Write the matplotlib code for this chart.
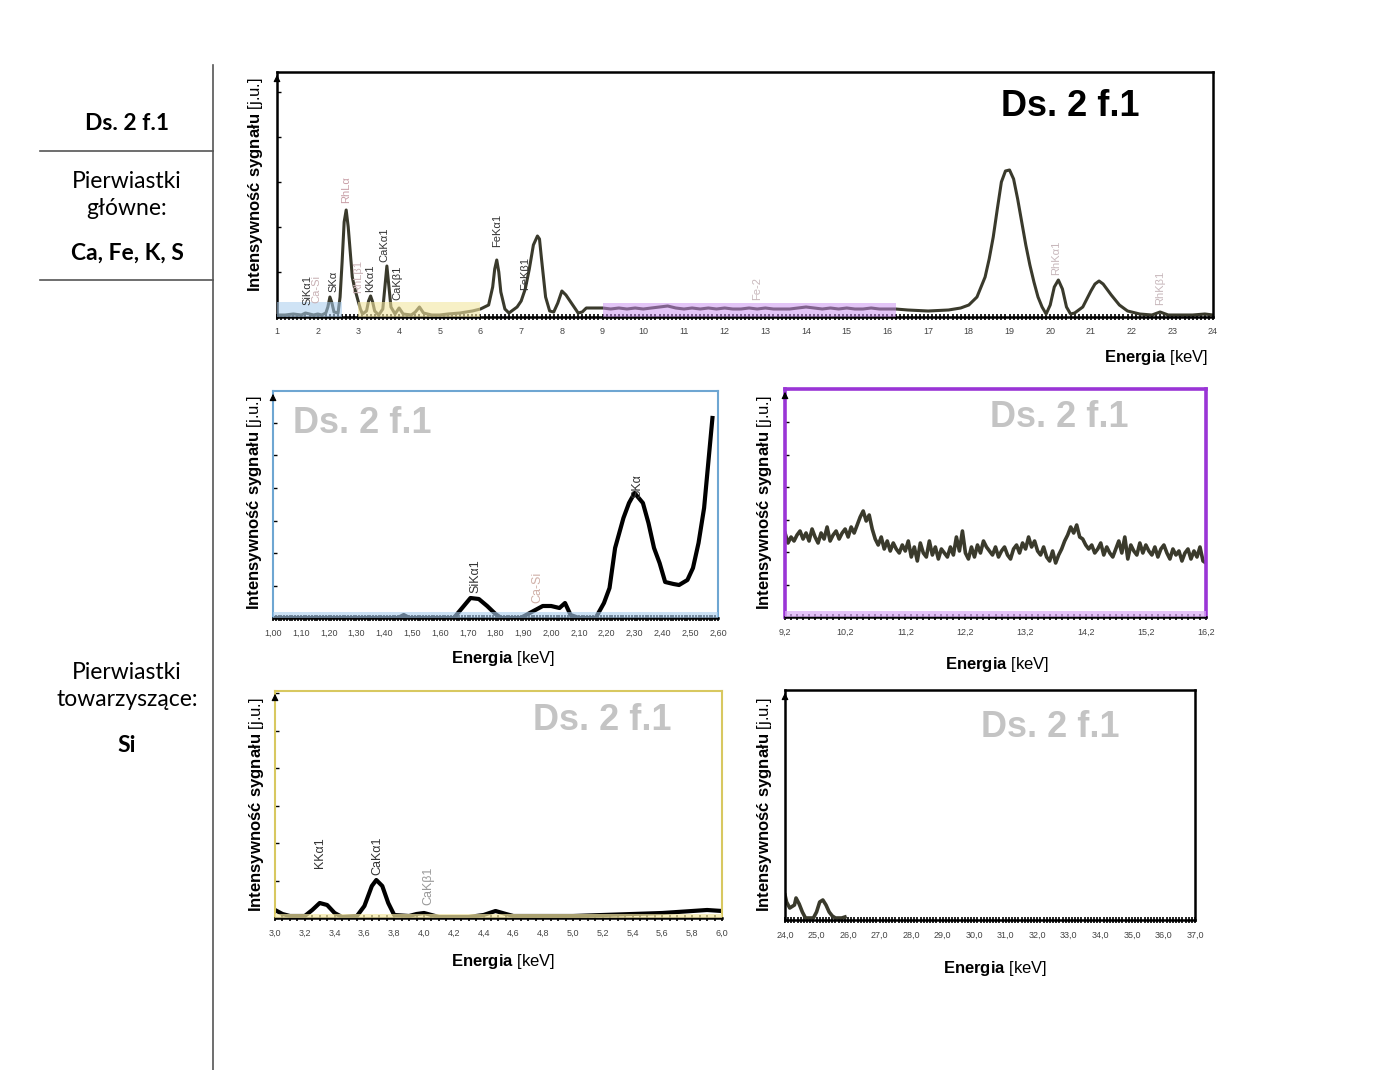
import numpy as np
import matplotlib
matplotlib.use("Agg")
import matplotlib.pyplot as plt
from matplotlib.lines import Line2D
from matplotlib.ticker import MultipleLocator, FuncFormatter

plt.rcParams['font.family'] = ['Liberation Sans', 'DejaVu Sans']
plt.rcParams['mathtext.fontset'] = 'custom'
plt.rcParams['mathtext.rm'] = 'Liberation Sans'
plt.rcParams['mathtext.bf'] = 'Liberation Sans:bold'

# ---- data (intensity in arbitrary units) ----
# full spectrum, low-energy part
top_e_low = [1.0, 1.2, 1.4, 1.6, 1.7, 1.8, 1.9, 2.0, 2.1, 2.2, 2.25, 2.3, 2.35, 2.4, 2.5,
             2.55, 2.6, 2.65, 2.7, 2.75, 2.8, 2.85, 2.9, 3.0, 3.05, 3.1, 3.2, 3.25, 3.3,
             3.35, 3.4, 3.5, 3.6, 3.65, 3.7, 3.75, 3.8, 3.9, 4.0, 4.1, 4.3, 4.4, 4.5, 4.6,
             4.8, 5.0, 5.2, 5.5, 5.8, 6.0, 6.2, 6.3, 6.35, 6.4, 6.45, 6.5, 6.6, 6.7, 6.8,
             6.9, 7.0, 7.1, 7.2, 7.3, 7.4, 7.45, 7.5, 7.6, 7.7, 7.8, 7.9, 8.0, 8.1, 8.2,
             8.3, 8.4, 8.5, 8.6, 8.8, 9.0]
top_i_low = [2, 2, 3, 2, 4, 3, 2, 3, 2, 4, 10, 20, 14, 5, 4,
             20, 55, 95, 107, 90, 65, 40, 30, 15, 8, 3, 6, 16, 21,
             15, 6, 2, 8, 30, 51, 30, 10, 3, 9, 3, 2, 5, 10, 4,
             2, 2, 3, 4, 6, 8, 12, 30, 48, 57, 45, 25, 8, 4, 7,
             10, 16, 28, 48, 72, 81, 78, 58, 20, 6, 5, 14, 26, 22, 16,
             10, 4, 5, 9, 9, 9]
# full spectrum, flat noisy part 9.2 - 16.2 keV (step 0.2)
top_i_mid = [8, 9, 8, 9, 8, 9, 10, 11, 9, 8, 9, 8, 9, 8, 9, 8, 8, 9,
             8, 9, 8, 8, 8, 9, 10, 9, 8, 9, 8, 9, 8, 8, 9, 8, 8, 8]
# full spectrum, high-energy part
top_e_high = [16.5, 17.0, 17.5, 17.8, 18.0, 18.2, 18.4, 18.5, 18.6, 18.7, 18.8, 18.9, 19.0,
              19.1, 19.2, 19.3, 19.4, 19.5, 19.6, 19.7, 19.8, 19.9, 20.0, 20.1, 20.2, 20.3,
              20.4, 20.5, 20.6, 20.8, 21.0, 21.1, 21.2, 21.3, 21.5, 21.7, 21.9, 22.2, 22.5,
              22.7, 22.9, 23.2, 23.5, 23.8, 24.0]
top_i_high = [7, 6, 7, 9, 12, 20, 40, 58, 80, 108, 135, 146, 147,
              138, 118, 95, 72, 52, 35, 20, 10, 3, 12, 30, 37, 28,
              10, 3, 4, 10, 26, 33, 36, 33, 22, 12, 6, 3, 2,
              5, 2, 2, 2, 3, 2]

top_labels = [("SiKα1", 1.74, 12, "#333333"), ("Ca-Si", 1.97, 14, "#c8b0b4"),
              ("SKα", 2.38, 25, "#333333"), ("RhLα", 2.70, 114, "#c9a0a8"),
              ("RhLβ1", 3.00, 24, "#c9b0b4"), ("KKα1", 3.30, 25, "#333333"),
              ("CaKα1", 3.65, 55, "#333333"), ("CaKβ1", 3.97, 17, "#333333"),
              ("FeKα1", 6.40, 70, "#333333"), ("FeKβ1", 7.10, 27, "#333333"),
              ("Fe-2", 12.8, 17, "#c8b8bc"), ("RhKα1", 20.15, 42, "#c8b8bc"),
              ("RhKβ1", 22.70, 12, "#c8b8bc")]

# zoom 1.00 - 2.60 keV
si_e = [1.00, 1.20, 1.45, 1.47, 1.49, 1.65, 1.68, 1.71, 1.74, 1.77, 1.80, 1.82, 1.89,
        1.93, 1.97, 2.00, 2.03, 2.05, 2.07, 2.10, 2.16, 2.19, 2.21, 2.23, 2.26, 2.28,
        2.30, 2.33, 2.35, 2.37, 2.39, 2.41, 2.44, 2.46, 2.49, 2.51, 2.53, 2.55, 2.56, 2.58]
si_i = [0, 0, 0, 3, 0, 0, 10, 20, 19, 12, 4, 0, 0,
        6, 12, 12, 10, 15, 3, 0, 0, 15, 30, 70, 100, 115,
        125, 115, 95, 70, 55, 36, 34, 33, 38, 50, 75, 110, 140, 200]
si_labels = [("SiKα1", 1.726, 25, "#333333"), ("Ca-Si", 1.95, 15, "#d0b0a8"),
             ("SKα", 2.31, 120, "#333333")]

# zoom 9.2 - 16.2 keV (step 0.05)
fe_i = [84, 74, 80, 76, 82, 86, 78, 84, 76, 88, 80, 74, 84, 78, 90, 76, 82, 86, 78, 84, 88,
        80, 90, 84, 92, 100, 106, 96, 102, 88, 78,
        72, 80, 68, 76, 66, 74, 68, 64, 72, 66,
        76, 60, 70, 56, 74, 64, 60, 76, 62, 70,
        58, 68, 64, 60, 70, 62, 80, 66, 86, 64,
        58, 70, 60, 72, 64, 76, 70, 66, 62, 70,
        60, 66, 70, 62, 58, 68, 72, 64, 74, 68,
        80, 70, 76, 66, 62, 70, 60, 56, 66, 54,
        62, 68, 76, 82, 90, 84, 92, 80, 78, 72,
        68, 72, 64, 68, 74, 62, 70, 64, 60, 68,
        76, 64, 80, 58, 72, 66, 62, 74, 64, 72,
        66, 62, 70, 60, 68, 72, 64, 58, 68, 62,
        66, 56, 64, 68, 58, 66, 60, 70, 56, 54]

# zoom 3.0 - 6.0 keV
ca_e = [3.00, 3.05, 3.10, 3.20, 3.25, 3.30, 3.35, 3.40, 3.45, 3.55, 3.60, 3.65, 3.68,
        3.72, 3.76, 3.80, 3.90, 3.95, 4.00, 4.05, 4.10, 4.30, 4.40, 4.48, 4.55, 4.60,
        4.80, 5.00, 5.20, 5.40, 5.60, 5.80, 5.90, 6.00]
ca_i = [8, 4, 2, 2, 8, 15, 13, 5, 1, 2, 12, 32, 38,
        32, 15, 3, 2, 4, 5, 3, 1, 1, 3, 7, 4, 2,
        2, 2, 3, 4, 5, 7, 8, 7]
ca_labels = [("KKα1", 3.30, 50, "#333333"), ("CaKα1", 3.69, 43, "#333333"),
             ("CaKβ1", 4.03, 13, "#999999")]

# zoom 24 - 37 keV
rh_e = [24.0, 24.05, 24.15, 24.3, 24.35, 24.45, 24.55, 24.65, 24.9, 25.0, 25.1, 25.2,
        25.3, 25.4, 25.5, 25.6, 25.8, 25.9]
rh_i = [25, 18, 12, 15, 22, 16, 8, 2, 2, 8, 18, 20, 15, 8, 4, 2, 2, 3]

LINE = "#3a3a2c"
W, H = 1400, 1070


def comma(decimals):
    return FuncFormatter(lambda v, p: f"{v:.{decimals}f}".replace(".", ","))


def make_axes(fig, l, t, r, b):
    return fig.add_axes([l / W, 1 - b / H, (r - l) / W, (b - t) / H])


def style(ax, xlim, ymax, step, minor, dec, ystep, color, lw):
    ax.set_xlim(*xlim)
    ax.set_ylim(0, ymax)
    ax.set_xticks(np.arange(xlim[0], xlim[1] + step / 2, step))
    ax.xaxis.set_minor_locator(MultipleLocator(minor))
    ax.xaxis.set_major_formatter(comma(dec))
    ax.yaxis.set_major_locator(MultipleLocator(ystep))
    ax.set_yticklabels([])
    ax.tick_params(axis="x", which="both", direction="inout", length=5, width=1.2,
                   labelsize=6.5, labelcolor="#444444", pad=5)
    ax.tick_params(axis="y", which="both", direction="in", length=3, width=1)
    for s in ax.spines.values():
        s.set_color(color)
        s.set_linewidth(lw)
    ax.spines["bottom"].set_color("black")
    ax.spines["bottom"].set_linewidth(1.8)
    ax.annotate("", xy=(0, 1.0), xytext=(0, 0.96), xycoords="axes fraction",
                arrowprops=dict(arrowstyle="-|>", color="black", lw=0.8))


def labels(ax, lx, ly, ex, ey, ha="center", fs=12):
    ax.set_ylabel(r"$\mathbf{Intensywność\ sygnału}$ [j.u.]", fontsize=fs)
    ax.yaxis.set_label_coords(lx, ly)
    ax.text(ex, ey, r"$\mathbf{Energia}$ [keV]", transform=ax.transAxes,
            ha=ha, va="center", fontsize=12)


def peak_labels(ax, items, fs):
    for name, x, y, c in items:
        ax.text(x, y, name, rotation=90, ha="center", va="bottom", fontsize=fs, color=c)


fig = plt.figure(figsize=(14, 10.7), dpi=100)

# left description column
fig.add_artist(Line2D([213 / W, 213 / W], [1 - 65 / H, 0], color="#555555", lw=1.2))
for yy in (151, 280):
    fig.add_artist(Line2D([40 / W, 213 / W], [1 - yy / H] * 2, color="#555555", lw=1.2))
col_font = ["Lato", "DejaVu Sans"]
fig.text(127 / W, 1 - 123 / H, "Ds. 2 f.1", ha="center", va="center", fontsize=16.5,
         fontweight="bold", family=col_font)
fig.text(127 / W, 1 - 195 / H, "Pierwiastki\ngłówne:", ha="center", va="center",
         fontsize=16.5, family=col_font, linespacing=1.4)
fig.text(127 / W, 1 - 253 / H, "Ca, Fe, K, S", ha="center", va="center", fontsize=16.5,
         fontweight="bold", family=col_font)
fig.text(127 / W, 1 - 686 / H, "Pierwiastki\ntowarzyszące:", ha="center", va="center",
         fontsize=16.5, family=col_font, linespacing=1.4)
fig.text(127 / W, 1 - 745 / H, "Si", ha="center", va="center", fontsize=16.5,
         fontweight="bold", family=col_font)

# full spectrum
ax = make_axes(fig, 277, 72, 1213, 317)
top_e = top_e_low + list(np.linspace(9.2, 16.2, len(top_i_mid))) + top_e_high
top_i = top_i_low + top_i_mid + top_i_high
ax.plot(top_e, top_i, color=LINE, lw=2.2, zorder=2)
ax.axvspan(1.0, 2.6, ymax=15 / 245, color="#a9cdee", alpha=0.55, lw=0, zorder=3)
ax.axvspan(3.0, 6.0, ymax=15 / 245, color="#f3e6a0", alpha=0.6, lw=0, zorder=3)
ax.axvspan(9.0, 16.2, ymax=14 / 245, color="#c98cf0", alpha=0.5, lw=0, zorder=3)
style(ax, (1, 24), 245, 1, 0.1, 0, 45, "black", 1.8)
peak_labels(ax, top_labels, 8)
ax.text(0.847, 0.861, "Ds. 2 f.1", transform=ax.transAxes, ha="center", va="center",
        fontsize=26, fontweight="bold", color="black")
labels(ax, -0.013, 0.54, 0.995, -0.167, ha="right")

# zoom 1.00 - 2.60
ax = make_axes(fig, 273, 391, 718, 618)
ax.plot(si_e, si_i, color="black", lw=3, zorder=2)
ax.axhspan(0, 6, color="#a9cdee", alpha=0.6, lw=0, zorder=3)
style(ax, (1.0, 2.6), 227, 0.1, 0.01, 2, 32.5, "#6ea6d2", 1.5)
peak_labels(ax, si_labels, 9)
ax.text(0.2, 0.859, "Ds. 2 f.1", transform=ax.transAxes, ha="center", va="center",
        fontsize=26, fontweight="bold", color="#c4c4c4")
labels(ax, -0.020, 0.51, 0.517, -0.18)

# zoom 9.2 - 16.2
ax = make_axes(fig, 785, 389, 1206, 617)
ax.plot(np.linspace(9.2, 16.2, len(fe_i)), fe_i, color=LINE, lw=2.6, zorder=2)
ax.axhspan(0, 6, color="#d9a8f5", alpha=0.7, lw=0, zorder=3)
style(ax, (9.2, 16.2), 228, 1.0, 0.1, 1, 32.5, "#9a35d6", 2.6)
ax.text(0.651, 0.877, "Ds. 2 f.1", transform=ax.transAxes, ha="center", va="center",
        fontsize=26, fontweight="bold", color="#c4c4c4")
labels(ax, -0.026, 0.5, 0.504, -0.21)

# zoom 3.0 - 6.0
ax = make_axes(fig, 275, 691, 722, 918)
ax.plot(ca_e, ca_i, color="black", lw=3, zorder=2)
ax.axhspan(0, 4, color="#f3e6a0", alpha=0.7, lw=0, zorder=3)
style(ax, (3.0, 6.0), 227, 0.2, 0.05, 1, 37.5, "#d8c860", 1.5)
peak_labels(ax, ca_labels, 9)
ax.text(0.732, 0.868, "Ds. 2 f.1", transform=ax.transAxes, ha="center", va="center",
        fontsize=26, fontweight="bold", color="#c4c4c4")
labels(ax, -0.020, 0.5, 0.51, -0.19)

# zoom 24 - 37
ax = make_axes(fig, 785, 690, 1195, 920)
ax.plot(rh_e, rh_i, color=LINE, lw=2.6, zorder=2)
style(ax, (24.0, 37.0), 230, 1.0, 0.1, 1, 1000, "black", 1.8)
ax.text(0.646, 0.839, "Ds. 2 f.1", transform=ax.transAxes, ha="center", va="center",
        fontsize=26, fontweight="bold", color="#c4c4c4")
labels(ax, -0.027, 0.5, 0.512, -0.213)

fig.savefig("out.png", dpi=100)
